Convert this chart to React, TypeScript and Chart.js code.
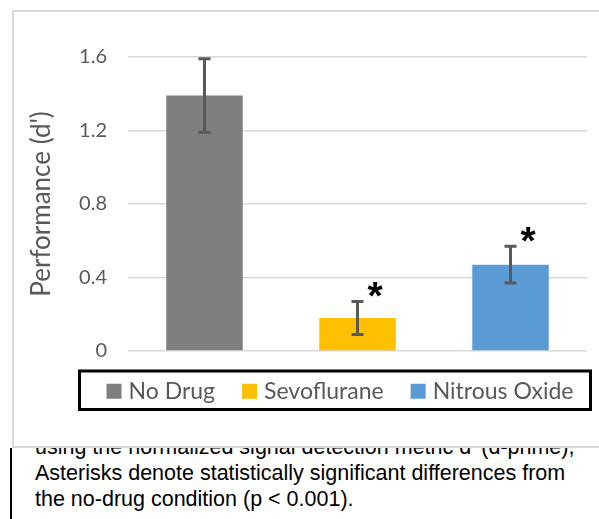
import { useEffect, useRef } from 'react';
import { Chart, registerables } from 'chart.js';

Chart.register(...registerables);

const CATEGORIES = ['No Drug', 'Sevoflurane', 'Nitrous Oxide'];
const VALUES = [1.39, 0.18, 0.47];
const ERRORS = [0.2, 0.09, 0.1];
const SIGNIFICANT = [false, true, true];
const COLORS = ['#7f7f7f', '#ffc000', '#5b9bd5'];
const Y_MIN = 0;
const Y_MAX = 1.6;
const Y_STEP = 0.4;
const Y_TICK_LABELS = ['0', '0.4', '0.8', '1.2', '1.6'];
const Y_TITLE = "Performance (d')";
const CAPTION_LINES = [
  "using the normalized signal detection metric d' (d-prime),",
  'Asterisks denote statistically significant differences from',
  'the no-drug condition (p < 0.001).',
];

const TEXT_GREY = '#595959';
const FONT = 'Lato, Calibri, "Open Sans", sans-serif';

const errorBarsPlugin = {
  id: 'errorBars',
  afterDatasetsDraw(chart: any) {
    const meta = chart.getDatasetMeta(0);
    const y = chart.scales.y;
    const ctx = chart.ctx;
    ctx.save();
    ctx.strokeStyle = TEXT_GREY;
    ctx.lineWidth = 3;
    meta.data.forEach((bar: any, i: number) => {
      const x = bar.x;
      const yTop = y.getPixelForValue(VALUES[i] + ERRORS[i]);
      const yBot = y.getPixelForValue(VALUES[i] - ERRORS[i]);
      ctx.beginPath();
      ctx.moveTo(x, yTop);
      ctx.lineTo(x, yBot);
      ctx.moveTo(x - 6, yTop);
      ctx.lineTo(x + 6, yTop);
      ctx.moveTo(x - 6, yBot);
      ctx.lineTo(x + 6, yBot);
      ctx.stroke();
      if (SIGNIFICANT[i]) {
        ctx.font = 'bold 39px "Liberation Sans", Arial, sans-serif';
        ctx.fillStyle = '#000000';
        ctx.textAlign = 'left';
        ctx.textBaseline = 'alphabetic';
        const m = ctx.measureText('*');
        const cx = x + 18;
        const cy = yTop - 12;
        const dx = cx - (m.actualBoundingBoxRight - m.actualBoundingBoxLeft) / 2;
        const dy = cy - (m.actualBoundingBoxDescent - m.actualBoundingBoxAscent) / 2;
        ctx.fillText('*', dx, dy);
      }
    });
    ctx.restore();
  },
};

const legendPlugin = {
  id: 'boxedLegend',
  afterDraw(chart: any) {
    const ctx = chart.ctx;
    const area = chart.chartArea;
    ctx.save();
    ctx.font = `23px ${FONT}`;
    ctx.textBaseline = 'middle';
    ctx.textAlign = 'left';
    const sq = 15;
    const gap = 7;
    const spacing = 27;
    const widths = CATEGORIES.map((c) => ctx.measureText(c).width);
    const total = widths.reduce((s, w) => s + sq + gap + w, 0) + spacing * (CATEGORIES.length - 1);
    const cx = (area.left + area.right) / 2 - 17.5;
    const top = area.bottom + 20;
    const height = 38.5;
    const midY = top + height / 2 + 1;
    let x = cx - total / 2;
    const boxLeft = x - 27;
    const boxRight = cx + total / 2 + 17;
    CATEGORIES.forEach((c, i) => {
      ctx.fillStyle = COLORS[i];
      ctx.fillRect(x, midY - sq / 2, sq, sq);
      ctx.fillStyle = TEXT_GREY;
      ctx.fillText(c, x + sq + gap, midY);
      x += sq + gap + widths[i] + spacing;
    });
    ctx.strokeStyle = '#000000';
    ctx.lineWidth = 3;
    ctx.strokeRect(boxLeft, top, boxRight - boxLeft, height);
    ctx.restore();
  },
};

function BarChart() {
  const ref = useRef<HTMLCanvasElement | null>(null);
  useEffect(() => {
    if (!ref.current) return;
    const chart = new Chart(ref.current, {
      type: 'bar',
      data: {
        labels: CATEGORIES,
        datasets: [
          {
            data: VALUES,
            backgroundColor: COLORS,
            borderWidth: 0,
            barPercentage: 0.5,
            categoryPercentage: 1,
          },
        ],
      },
      options: {
        animation: false,
        responsive: false,
        events: [],
        layout: { padding: { top: 45, right: 12, bottom: 95, left: 0 } },
        plugins: {
          legend: { display: false },
          tooltip: { enabled: false },
        },
        scales: {
          x: { display: false },
          y: {
            min: Y_MIN,
            max: Y_MAX,
            afterFit: (scale: any) => {
              scale.width = 114;
            },
            ticks: {
              stepSize: Y_STEP,
              padding: 21,
              color: TEXT_GREY,
              font: { family: FONT, size: 20 },
              callback: (_v: any, i: number) => Y_TICK_LABELS[i],
            },
            grid: { color: '#d9d9d9', lineWidth: 1.5, drawTicks: false },
            border: { display: false },
            title: {
              display: true,
              text: Y_TITLE,
              color: TEXT_GREY,
              font: { family: FONT, size: 26 },
              padding: { top: 12, bottom: 0 },
            },
          },
        },
      },
      plugins: [errorBarsPlugin, legendPlugin],
    } as any);
    return () => chart.destroy();
  }, []);
  return <canvas ref={ref} width={585} height={434} style={{ display: 'block', width: 585, height: 434 }} />;
}

export default function App() {
  return (
    <div style={{ position: 'absolute', left: 0, top: 0, width: 599, height: 519, overflow: 'hidden', background: '#ffffff' }}>
      <div
        style={{
          position: 'absolute',
          left: 35,
          top: 434,
          fontFamily: '"Liberation Sans", Arial, sans-serif',
          fontSize: 21.5,
          lineHeight: '26px',
          color: '#000000',
          whiteSpace: 'nowrap',
        }}
      >
        {CAPTION_LINES.map((l, i) => (
          <div key={i}>{l}</div>
        ))}
      </div>
      <div style={{ position: 'absolute', left: 10, top: 448, width: 2, height: 80, background: '#000000' }} />
      <div
        style={{
          position: 'absolute',
          left: 12,
          top: 10,
          width: 600,
          height: 434,
          background: '#ffffff',
          borderTop: '2px solid #d9d9d9',
          borderLeft: '2px solid #d9d9d9',
          borderBottom: '2px solid #d9d9d9',
        }}
      >
        <BarChart />
      </div>
    </div>
  );
}
